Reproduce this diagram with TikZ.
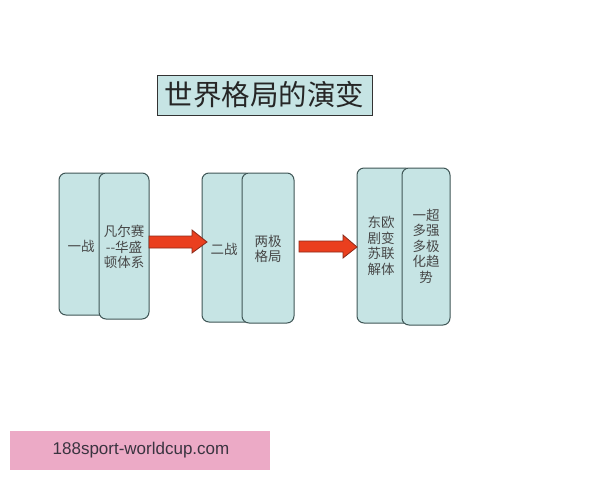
\documentclass[tikz,border=0pt]{standalone}
\usepackage{fontspec}
\newfontfamily\cjk{Noto Sans CJK SC}
\setmainfont{Liberation Sans}
\usetikzlibrary{calc}
\definecolor{boxfill}{HTML}{C6E4E4}
\definecolor{boxline}{HTML}{3F5656}
\definecolor{arrowfill}{HTML}{EA3F1E}
\definecolor{arrowline}{HTML}{8A2A1A}
\definecolor{wmfill}{HTML}{ECAAC6}
\definecolor{wmtext}{HTML}{3A3440}
\tikzset{
  x=1pt,y=-1pt,
  stagebox/.style={draw=boxline, line width=1pt, fill=boxfill, rounded corners=7pt},
  boxtext/.style={font=\cjk\fontsize{13.5}{15.5}\selectfont, text=black!72, align=center, inner sep=0pt},
  bigarrow/.style={draw=arrowline, line width=0.8pt, fill=arrowfill, line join=miter},
}
\begin{document}
\begin{tikzpicture}
\useasboundingbox (0,0) rectangle (600,480);
% title
\node[draw=black!80, line width=1pt, fill=boxfill, minimum width=215pt, minimum height=40pt, inner sep=0pt,
      font=\cjk\fontsize{28.5}{30}\selectfont, text=black!85] (title) at (264.5,95) {世界格局的演变};
% group 1
\draw[stagebox] (59,173) rectangle (109,315);
\draw[stagebox] (99,173) rectangle (149,319);
\node[boxtext] (t1a) at (81,246) {一战};
\node[boxtext] (t1b) at (124,247) {凡尔赛\\--华盛\\顿体系};
% group 2
\draw[stagebox] (202,173) rectangle (252,322);
\draw[stagebox] (242,173) rectangle (294,323);
\node[boxtext] (t2a) at (224,249) {二战};
\node[boxtext] (t2b) at (268,249) {两极\\格局};
% group 3
\draw[stagebox] (357,168) rectangle (412,323);
\draw[stagebox] (402,168) rectangle (450,325);
\node[boxtext] (t3a) at (381,246) {东欧\\剧变\\苏联\\解体};
\node[boxtext] (t3b) at (426,246) {一超\\多强\\多极\\化趋\\势};
% arrows
\coordinate (a1s) at (149,242);
\coordinate (a1e) at (207,242);
\draw[bigarrow] ($(a1s)+(0,-6)$) -- ($(a1e)+(-15,-6)$) -- ($(a1e)+(-15,-12)$) -- (a1e)
  -- ($(a1e)+(-15,11)$) -- ($(a1e)+(-15,6)$) -- ($(a1s)+(0,6)$) -- cycle;
\coordinate (a2s) at (299,247);
\coordinate (a2e) at (357,247);
\draw[bigarrow] ($(a2s)+(0,-6)$) -- ($(a2e)+(-14,-6)$) -- ($(a2e)+(-14,-12)$) -- (a2e)
  -- ($(a2e)+(-14,11)$) -- ($(a2e)+(-14,5)$) -- ($(a2s)+(0,5)$) -- cycle;
% watermark
\fill[wmfill] (10,431) rectangle (270,470);
\node[font=\fontsize{17}{20}\selectfont, text=wmtext, inner sep=0pt] (wm) at (141,450) {188sport-worldcup.com};
\end{tikzpicture}
\end{document}
